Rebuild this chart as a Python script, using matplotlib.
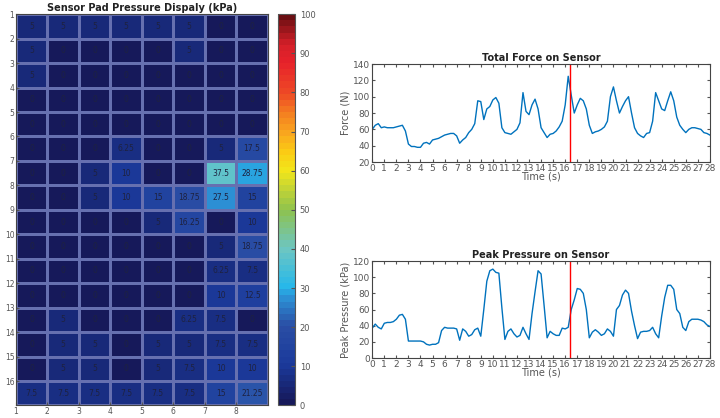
import matplotlib
matplotlib.use("Agg")
import matplotlib.pyplot as plt
import numpy as np
from matplotlib.colors import LinearSegmentedColormap

# sensor pad pressure (kPa), 16 rows x 8 columns
pressure = [
    [5, 5, 5, 5, 5, 5, 0, 0],
    [5, 0, 0, 0, 0, 5, 0, 0],
    [5, 0, 0, 0, 0, 0, 0, 0],
    [0, 0, 0, 0, 0, 0, 0, 0],
    [0, 0, 0, 0, 0, 0, 0, 0],
    [0, 0, 0, 6.25, 0, 0, 5, 17.5],
    [0, 0, 5, 10, 0, 0, 37.5, 28.75],
    [0, 0, 5, 10, 15, 18.75, 27.5, 15],
    [0, 0, 0, 0, 5, 16.25, 0, 10],
    [0, 0, 0, 0, 0, 0, 5, 18.75],
    [0, 0, 0, 0, 0, 0, 6.25, 7.5],
    [0, 0, 0, 0, 0, 0, 10, 12.5],
    [0, 5, 0, 0, 0, 6.25, 7.5, 0],
    [0, 5, 5, 0, 5, 5, 7.5, 7.5],
    [0, 5, 5, 0, 5, 7.5, 10, 10],
    [7.5, 7.5, 7.5, 7.5, 7.5, 7.5, 15, 21.25],
]

# sampled every 0.25 s from 0 to 28 s
force = [60, 65, 67, 62, 63, 62, 62, 62, 63, 64, 65, 58,
         42, 39, 39, 38, 38, 43, 44, 42, 47, 48, 49, 51,
         53, 54, 55, 55, 52, 43, 47, 50, 56, 60, 67, 95,
         94, 72, 85, 88, 96, 99, 92, 62, 56, 55, 54, 57,
         60, 68, 105, 82, 78, 90, 97, 85, 62, 56, 50, 54,
         55, 58, 63, 70, 90, 125, 102, 80, 90, 98, 95, 85,
         65, 55, 57, 58, 60, 63, 70, 100, 112, 95, 80, 88,
         95, 100, 80, 62, 55, 52, 50, 55, 56, 70, 105, 95,
         85, 83, 95, 106, 95, 75, 65, 60, 56, 60, 62, 62,
         61, 60, 56, 55, 53]
peak = [37, 42, 38, 36, 43, 44, 44, 45, 48, 53, 54, 48,
        21, 21, 21, 21, 21, 20, 17, 16, 17, 17, 19, 34,
        38, 37, 37, 37, 36, 22, 36, 33, 27, 29, 35, 37,
        27, 60, 95, 108, 110, 106, 105, 62, 23, 33, 36, 30,
        26, 28, 38, 30, 23, 55, 82, 108, 104, 65, 25, 33,
        30, 28, 28, 37, 36, 38, 60, 72, 86, 85, 80, 60,
        25, 32, 35, 32, 28, 30, 36, 33, 27, 60, 65, 78,
        84, 80, 58, 40, 24, 32, 33, 33, 34, 38, 30, 25,
        52, 75, 90, 90, 85, 60, 55, 38, 34, 45, 48, 48,
        48, 47, 45, 41, 39]
time = np.arange(len(force)) * 0.25
marker_time = 16.4

cmap = LinearSegmentedColormap.from_list("pad", [
    (0.00, "#16195a"), (0.10, "#1b3a9b"), (0.20, "#2a4ea5"),
    (0.27, "#2c8fd4"), (0.30, "#27b8ea"), (0.40, "#6dc6c2"),
    (0.50, "#8ec24e"), (0.55, "#bfd337"), (0.60, "#f2e61a"),
    (0.65, "#fbcc14"), (0.70, "#f9a51e"), (0.75, "#f47f20"),
    (0.80, "#ee4b25"), (0.88, "#e7222b"), (0.93, "#d41f28"),
    (1.00, "#6a0e12")], N=64)

grey = "#555555"
fig = plt.figure(figsize=(7.2, 4.18), dpi=100)

# heat map
ax = fig.add_axes([0.022, 0.03, 0.35, 0.936])
Z = np.array(pressure)
xe = np.arange(1, Z.shape[1] + 2)
ye = np.arange(1, Z.shape[0] + 2)
mesh = ax.pcolormesh(xe, ye, Z, cmap=cmap, vmin=0, vmax=100,
                     edgecolors="#6670b0", linewidth=0.8)
for r in range(Z.shape[0]):
    for c in range(Z.shape[1]):
        ax.text(c + 1.5, r + 1.5, "%g" % Z[r, c], ha="center", va="center",
                fontsize=5.5, color="#1e2240")
ax.set_xlim(1, 9)
ax.set_ylim(17, 1)
ax.set_xticks(range(1, 9))
ax.set_yticks(range(1, 17))
ax.tick_params(labelsize=5.5, colors=grey, length=2, direction="in", pad=1)
for sp in ax.spines.values():
    sp.set_color("#444444")
ax.set_title("Sensor Pad Pressure Dispaly (kPa)", fontsize=7,
             fontweight="bold", color="#222222", pad=2)

cax = fig.add_axes([0.386, 0.03, 0.0236, 0.936])
cb = fig.colorbar(mesh, cax=cax, ticks=range(0, 101, 10))
cb.ax.tick_params(labelsize=6, colors=grey, direction="in", length=3)
cb.outline.set_edgecolor("#555555")

def line_plot(rect, y, title, ylabel, ylim):
    a = fig.add_axes(rect)
    a.plot(time, y, color="#0072bd", linewidth=1.0)
    a.axvline(marker_time, color="red", linewidth=1.0)
    a.set_xlim(0, 28)
    a.set_ylim(ylim[0], ylim[1])
    a.set_xticks(range(0, 29))
    a.set_yticks(range(ylim[0], ylim[1] + 1, 20))
    a.tick_params(labelsize=6.5, colors=grey, direction="in", length=2.5,
                  top=True, right=True, pad=1.5)
    a.set_title(title, fontsize=7, fontweight="bold", color="#222222", pad=2)
    a.set_xlabel("Time (s)", fontsize=7, color=grey, labelpad=-1)
    a.set_ylabel(ylabel, fontsize=7, color=grey, labelpad=2)
    for sp in a.spines.values():
        sp.set_color("#444444")
    return a

line_plot([0.517, 0.6124, 0.469, 0.2344], force,
          "Total Force on Sensor", "Force (N)", (20, 140))
line_plot([0.517, 0.1435, 0.469, 0.232], peak,
          "Peak Pressure on Sensor", "Peak Pressure (kPa)", (0, 120))

fig.savefig("out.png", dpi=100)
